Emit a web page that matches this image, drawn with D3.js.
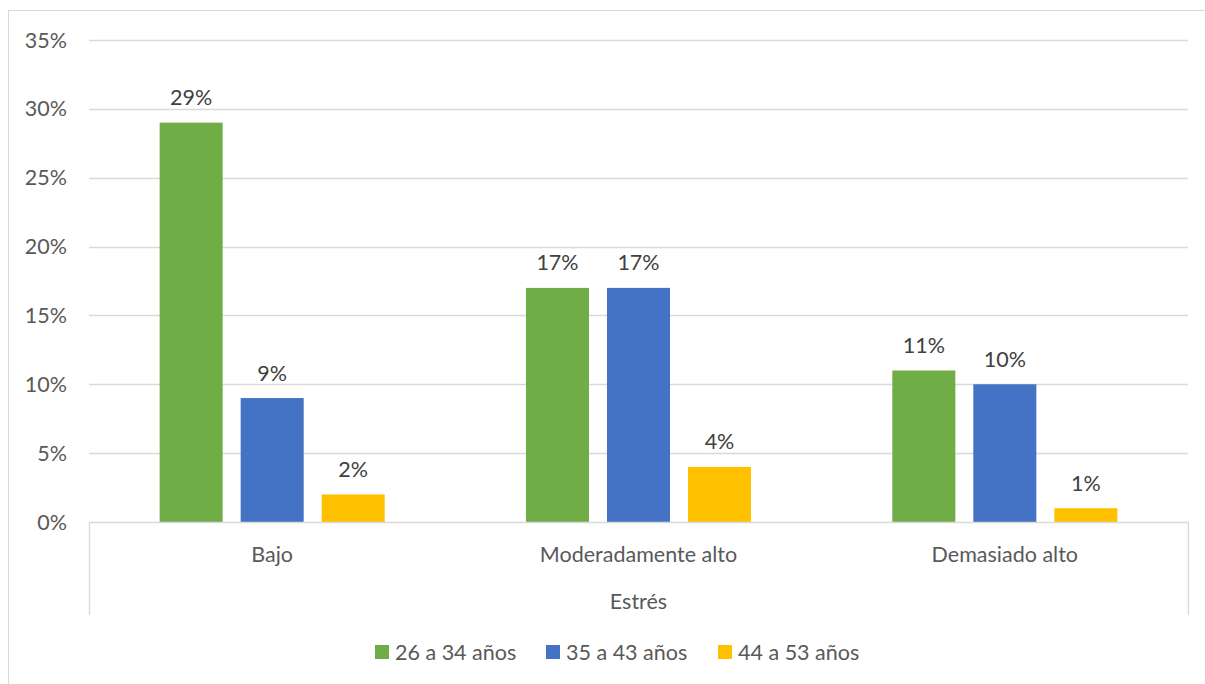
<!DOCTYPE html>
<html>
<head>
<meta charset="utf-8">
<script src="https://cdn.jsdelivr.net/npm/d3@7"></script>
<style>
  body { margin: 0; background: #fff; }
  text { font-family: Lato, "Open Sans", sans-serif; fill: #595959; }
</style>
</head>
<body>
<div id="chart"></div>
<script>
const categories = ["Bajo", "Moderadamente alto", "Demasiado alto"];
const series = ["26 a 34 años", "35 a 43 años", "44 a 53 años"];
const values = [
    [29, 9, 2],   // Bajo
    [17, 17, 4],  // Moderadamente alto
    [11, 10, 1]   // Demasiado alto
];
const yTicks = [0, 5, 10, 15, 20, 25, 30, 35];
const axisTitle = "Estrés";
const colors = ["#70ad47", "#4472c4", "#ffc000"];

const W = 1205, H = 684;
const plot = { left: 89, right: 1188, top: 40, bottom: 522 };
const fs = "21.5px";

const svg = d3.select("#chart").append("svg")
    .attr("width", W).attr("height", H);

// chart border
svg.append("rect")
    .attr("x", 8.5).attr("y", 10.5)
    .attr("width", 1220).attr("height", 700)
    .attr("fill", "none").attr("stroke", "#d9d9d9");

const y = d3.scaleLinear().domain([0, 35]).range([plot.bottom, plot.top]);

const x0 = d3.scaleBand().domain(categories).range([plot.left, plot.right]).padding(0);
const x1 = d3.scaleBand().domain(series).range([0, x0.bandwidth()])
    .paddingInner(0.222).paddingOuter(0.872);

// gridlines
svg.append("g").selectAll("line")
    .data(yTicks.filter(d => d > 0))
    .enter().append("line")
    .attr("x1", plot.left).attr("x2", plot.right)
    .attr("y1", d => Math.round(y(d)) + 0.5).attr("y2", d => Math.round(y(d)) + 0.5)
    .attr("stroke", "#d9d9d9").attr("stroke-width", 1.3);

// y labels
svg.append("g").selectAll("text")
    .data(yTicks)
    .enter().append("text")
    .attr("x", 67).attr("y", d => y(d))
    .attr("dy", "0.35em")
    .attr("text-anchor", "end")
    .style("font-size", fs)
    .text(d => d + "%");

// bars
const groups = svg.append("g").selectAll("g")
    .data(categories)
    .enter().append("g")
    .attr("transform", d => `translate(${x0(d)},0)`);

groups.selectAll("rect")
    .data((c, i) => values[i].map((v, j) => ({ s: series[j], v, j })))
    .enter().append("rect")
    .attr("x", d => x1(d.s))
    .attr("y", d => y(d.v))
    .attr("width", x1.bandwidth())
    .attr("height", d => plot.bottom - y(d.v))
    .attr("fill", d => colors[d.j]);

groups.selectAll("text.lbl")
    .data((c, i) => values[i].map((v, j) => ({ s: series[j], v, j })))
    .enter().append("text")
    .attr("class", "lbl")
    .attr("x", d => x1(d.s) + x1.bandwidth() / 2)
    .attr("y", d => y(d.v) - 25)
    .attr("dy", "0.35em")
    .attr("text-anchor", "middle")
    .style("font-size", fs)
    .style("fill", "#404040")
    .text(d => d.v + "%");

// category axis line and box
svg.append("path")
    .attr("d", `M${plot.left + 0.5},615V${plot.bottom + 0.5}H${plot.right + 0.5}V615`)
    .attr("fill", "none").attr("stroke", "#d9d9d9").attr("stroke-width", 1.3);

svg.append("g").selectAll("text")
    .data(categories)
    .enter().append("text")
    .attr("x", d => x0(d) + x0.bandwidth() / 2)
    .attr("y", 554)
    .attr("dy", "0.35em")
    .attr("text-anchor", "middle")
    .style("font-size", fs)
    .text(d => d);

svg.append("text")
    .attr("x", (plot.left + plot.right) / 2)
    .attr("y", 601)
    .attr("dy", "0.35em")
    .attr("text-anchor", "middle")
    .style("font-size", fs)
    .text(axisTitle);

// legend
const legendX = [375, 546, 718];
const legend = svg.append("g").selectAll("g")
    .data(series)
    .enter().append("g")
    .attr("transform", (d, i) => `translate(${legendX[i]},645)`);
legend.append("rect")
    .attr("width", 14).attr("height", 14)
    .attr("fill", (d, i) => colors[i]);
legend.append("text")
    .attr("x", 20).attr("y", 7)
    .attr("dy", "0.35em")
    .style("font-size", fs)
    .text(d => d);
</script>
</body>
</html>
